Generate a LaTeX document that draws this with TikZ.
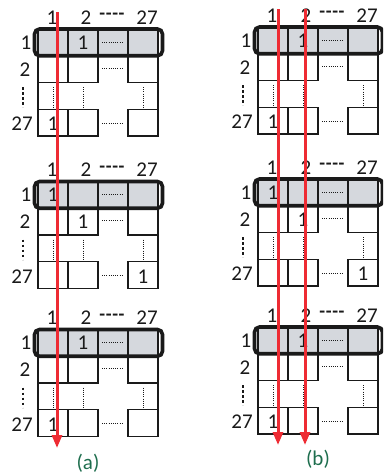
\documentclass[tikz,border=0pt]{standalone}
\usepackage{fontspec}
\setmainfont{Carlito}
\usetikzlibrary{arrows.meta}
\definecolor{cellgray}{HTML}{D5D8DD}
\definecolor{arrred}{HTML}{EE2B33}
\definecolor{capgreen}{HTML}{1E6E4E}
\definecolor{ink}{HTML}{1A1A1A}
\tikzset{
  gridln/.style={draw=ink, line width=1.3pt},
  dotln/.style={draw=ink, line width=0.9pt, dash pattern=on 1pt off 1.2pt},
  rowbar/.style={draw=ink, line width=3.6pt, rounded corners=5pt},
  vdots/.style={draw=ink, line width=2.4pt, dash pattern=on 2.6pt off 2.4pt},
  lbl/.style={inner sep=0pt, text=ink, font=\fontsize{21}{21}\selectfont},
  dashlbl/.style={inner sep=0pt, text=ink, font=\fontsize{19}{19}\selectfont\bfseries},
  redarrow/.style={draw=arrred, line width=3pt, -{Triangle[length=13pt,width=10pt]}},
  captext/.style={inner sep=0pt, text=capgreen, font=\fontsize{21}{21}\selectfont}
}
% #1,#2 = top-left of grid, #3 = name prefix, #4 = list of col/row for the 1s
\newcommand\gridblock[4]{%
\begin{scope}[shift={(#1,#2)}]
  \fill[cellgray] (0,0) rectangle (120,26.75);
  \draw[gridln] (0,0) rectangle (120,26.75);
  \foreach \xx in {30,60,90} \draw[gridln] (\xx,0) -- (\xx,26.75);
  \draw[dotln] (64,13.4) -- (86,13.4);
  \draw[rowbar] (-3.5,0) rectangle (124.5,26.75);
  % row 2
  \draw[gridln] (0,26.75) rectangle (60,53.5);
  \draw[gridln] (30,26.75) -- (30,53.5);
  \draw[gridln] (90,26.75) rectangle (120,53.5);
  \draw[dotln] (64,39) -- (86,39);
  % dotted row
  \draw[gridln] (0,53.5) -- (0,80.25);
  \draw[gridln] (120,53.5) -- (120,80.25);
  \foreach \xx in {15,45,105} \draw[dotln] (\xx,58) -- (\xx,79);
  % row 27
  \draw[gridln] (0,80.25) rectangle (60,107);
  \draw[gridln] (30,80.25) -- (30,107);
  \draw[gridln] (90,80.25) rectangle (120,107);
  \draw[dotln] (64,94) -- (86,94);
  % column labels
  \node[lbl] (#3-c1) at (14,-11.5) {1};
  \node[lbl] (#3-c2) at (48,-11.5) {2};
  \node[dashlbl] (#3-c3) at (74,-12.5) {{-}\kern0.6pt{-}\kern0.6pt{-}\kern0.6pt{-}};
  \node[lbl] (#3-c4) at (109,-11.5) {27};
  % row labels
  \node[lbl] (#3-r1) at (-12,13.5) {1};
  \node[lbl] (#3-r2) at (-13,40.5) {2};
  \draw[vdots] (-15,58) -- (-15,78);
  \node[lbl] (#3-r4) at (-16,95) {27};
  % ones
  \foreach \cc/\rr [count=\k] in {#4}
    \node[lbl] (#3-one\k) at (30*\cc-15,\rr) {1};
\end{scope}}

\begin{document}
\begin{tikzpicture}[x=1pt,y=-1pt]
\clip (0,0) rectangle (383,474);
\fill[white] (0,0) rectangle (383,474);
% (a)
\gridblock{38}{29}{a1}{2/13.5,1/95}
\gridblock{38}{181.5}{a2}{1/13.5,2/40.5,4/95}
\gridblock{38}{329.5}{a3}{2/13.5,1/95}
% (b)
\gridblock{258}{27}{b1}{2/13.5,1/95}
\gridblock{258}{179}{b2}{1/13.5,2/40.5,4/95}
\gridblock{258}{327}{b3}{2/13.5,1/95}
% arrows
\coordinate (aS) at (57,12);
\coordinate (aE) at (57,448);
\draw[redarrow] (aS) -- (aE);
\coordinate (bS1) at (278,9);
\coordinate (bE1) at (278,445);
\draw[redarrow] (bS1) -- (bE1);
\coordinate (bS2) at (305,9);
\coordinate (bE2) at (305,445);
\draw[redarrow] (bS2) -- (bE2);
% captions
\node[captext] (capa) at (88,463) {(a)};
\node[captext] (capb) at (318,459) {(b)};
\end{tikzpicture}
\end{document}
